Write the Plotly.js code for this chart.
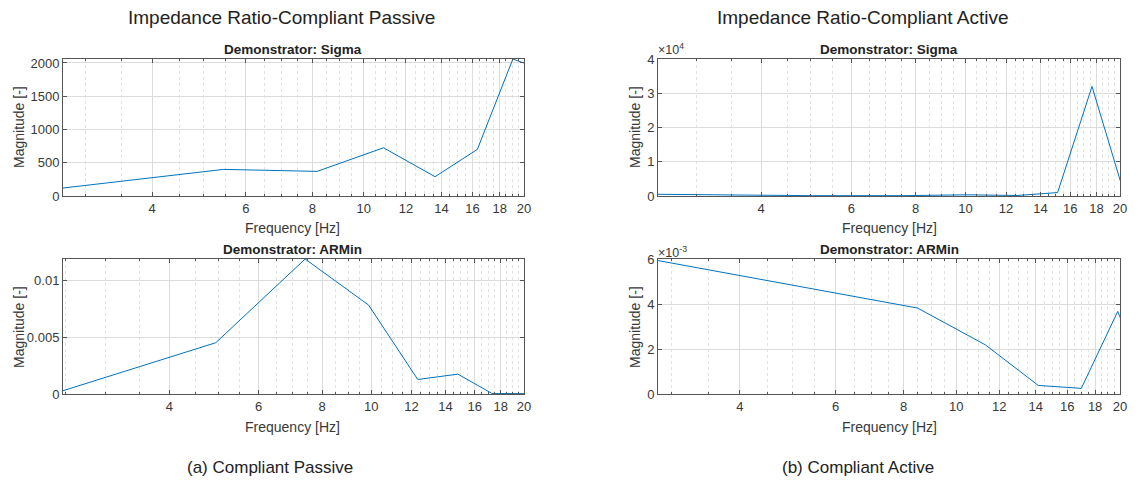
<!DOCTYPE html>
<html>
<head>
<meta charset="utf-8">
<script src="https://cdn.plot.ly/plotly-3.0.1.min.js"></script>
<style>
  html, body { margin: 0; padding: 0; background: #fff; }
  #chart { width: 1138px; height: 484px; }
</style>
</head>
<body>
<div id="chart"></div>
<script>
// Compliant passive, Sigma demonstrator
const passiveSigmaFreq = [2.72, 5.45, 8.17, 10.89, 13.61, 16.34, 19.06, 21.78];
const passiveSigmaMag  = [120, 400, 370, 725, 290, 700, 2060, 1890];

// Compliant passive, ARMin demonstrator
const passiveArminFreq = [2.47, 4.94, 7.41, 9.88, 12.35, 14.82, 17.29, 19.76, 22.23];
const passiveArminMag  = [0.00029, 0.00452, 0.0119, 0.00784, 0.00128, 0.00175, 0.00005, 0.00003, 0.00002];

// Compliant active, Sigma demonstrator
const activeSigmaFreq = [2.52, 5.04, 7.56, 10.08, 12.60, 15.12, 17.64, 20.16];
const activeSigmaMag  = [500, 100, 100, 350, 150, 1000, 32000, 3000];

// Compliant active, ARMin demonstrator
const activeArminFreq = [2.83, 5.66, 8.49, 11.32, 14.15, 16.98, 19.81, 22.64];
const activeArminMag  = [0.00593, 0.0046, 0.00382, 0.00218, 0.00038, 0.00025, 0.00367, 0.00017];

// Axis ticks
const freqTicks = [4, 6, 8, 10, 12, 14, 16, 18, 20];
const freqMax = 20;
const passiveSigmaYTicks = [0, 500, 1000, 1500, 2000];
const passiveArminYTicks = [0, 0.005, 0.01];
const activeSigmaYTicks = [0, 10000, 20000, 30000, 40000];
const activeSigmaYText = ['0', '1', '2', '3', '4'];
const activeArminYTicks = [0, 0.002, 0.004, 0.006];
const activeArminYText = ['0', '2', '4', '6'];

const W = 1138, H = 484;
const px = v => v / W;
const py = v => 1 - v / H;

const lineColor = '#0072BD';
const axisColor = '#555555';
const textColor = '#383838';
const fontFam = '"Liberation Sans", Arial, Helvetica, sans-serif';

function xAxis(dom, fmin) {
  return {
    type: 'log',
    domain: dom,
    range: [Math.log10(fmin), Math.log10(freqMax)],
    tickmode: 'array',
    tickvals: freqTicks,
    ticktext: freqTicks.map(String),
    ticks: 'inside',
    ticklen: 4,
    tickcolor: axisColor,
    showline: true,
    linecolor: axisColor,
    linewidth: 1,
    mirror: 'ticks',
    showgrid: true,
    gridcolor: '#dcdcdc',
    gridwidth: 1,
    zeroline: false,
    tickfont: { family: fontFam, size: 13, color: textColor },
    minor: {
      dtick: 'L0.5',
      tick0: 0,
      ticks: 'inside',
      ticklen: 2,
      tickcolor: axisColor,
      showgrid: true,
      gridcolor: '#e2e2e2',
      griddash: 'dot',
      gridwidth: 1
    },
    fixedrange: true
  };
}

function yAxis(dom, range, vals, text) {
  const ax = {
    domain: dom,
    range: range,
    tickmode: 'array',
    tickvals: vals,
    ticks: 'inside',
    ticklen: 4,
    tickcolor: axisColor,
    showline: true,
    linecolor: axisColor,
    linewidth: 1,
    mirror: 'ticks',
    showgrid: true,
    gridcolor: '#dcdcdc',
    gridwidth: 1,
    zeroline: false,
    tickfont: { family: fontFam, size: 13, color: textColor },
    fixedrange: true
  };
  if (text) ax.ticktext = text;
  return ax;
}

const leftDom = [px(63), px(524)];
const rightDom = [px(658), px(1120)];
const topDom = [py(196), py(59)];
const botDom = [py(394), py(259)];

const traces = [
  { x: passiveSigmaFreq, y: passiveSigmaMag, xaxis: 'x', yaxis: 'y' },
  { x: passiveArminFreq, y: passiveArminMag, xaxis: 'x2', yaxis: 'y2' },
  { x: activeSigmaFreq, y: activeSigmaMag, xaxis: 'x3', yaxis: 'y3' },
  { x: activeArminFreq, y: activeArminMag, xaxis: 'x4', yaxis: 'y4' }
].map(t => Object.assign(t, {
  type: 'scatter',
  mode: 'lines',
  line: { color: lineColor, width: 1 },
  hoverinfo: 'skip'
}));

function label(text, x, y, opts) {
  return Object.assign({
    text: text,
    xref: 'paper', yref: 'paper',
    x: px(x), y: py(y),
    xanchor: 'center', yanchor: 'middle',
    showarrow: false,
    font: { family: fontFam, size: 14, color: textColor }
  }, opts || {});
}

const headFont = { family: fontFam, size: 19, color: '#222' };
const capFont = { family: fontFam, size: 17, color: '#222' };
const subFont = { family: fontFam, size: 13.5, color: '#222' };
const expFont = { family: fontFam, size: 12.5, color: textColor };

const annotations = [
  label('Impedance Ratio-Compliant Passive', 281, 18, { font: headFont }),
  label('Impedance Ratio-Compliant Active', 862, 18, { font: headFont }),
  label('(a) Compliant Passive', 270, 467, { font: capFont }),
  label('(b) Compliant Active', 858, 467, { font: capFont }),

  label('<b>Demonstrator: Sigma</b>', 293, 50, { font: subFont }),
  label('<b>Demonstrator: ARMin</b>', 293, 249, { font: subFont }),
  label('<b>Demonstrator: Sigma</b>', 889, 50, { font: subFont }),
  label('<b>Demonstrator: ARMin</b>', 889, 249, { font: subFont }),

  label('Frequency [Hz]', 293, 228),
  label('Frequency [Hz]', 293, 427),
  label('Frequency [Hz]', 889, 228),
  label('Frequency [Hz]', 889, 427),

  label('Magnitude [-]', 19, 127, { textangle: -90 }),
  label('Magnitude [-]', 19, 327, { textangle: -90 }),
  label('Magnitude [-]', 635, 127, { textangle: -90 }),
  label('Magnitude [-]', 635, 327, { textangle: -90 }),

  label('×10<sup>4</sup>', 656, 49, { xanchor: 'left', font: expFont }),
  label('×10<sup>-3</sup>', 656, 252, { xanchor: 'left', font: expFont })
];

const layout = {
  width: W,
  height: H,
  margin: { l: 0, r: 0, t: 0, b: 0, pad: 0 },
  paper_bgcolor: '#ffffff',
  plot_bgcolor: '#ffffff',
  showlegend: false,
  font: { family: fontFam, size: 13, color: textColor },
  xaxis: Object.assign(xAxis(leftDom, passiveSigmaFreq[0]), { anchor: 'y' }),
  yaxis: Object.assign(yAxis(topDom, [0, 2060], passiveSigmaYTicks), { anchor: 'x' }),
  xaxis2: Object.assign(xAxis(leftDom, passiveArminFreq[0]), { anchor: 'y2' }),
  yaxis2: Object.assign(yAxis(botDom, [0, 0.0119], passiveArminYTicks), { anchor: 'x2' }),
  xaxis3: Object.assign(xAxis(rightDom, activeSigmaFreq[0]), { anchor: 'y3' }),
  yaxis3: Object.assign(yAxis(topDom, [0, 40000], activeSigmaYTicks, activeSigmaYText), { anchor: 'x3' }),
  xaxis4: Object.assign(xAxis(rightDom, activeArminFreq[0]), { anchor: 'y4' }),
  yaxis4: Object.assign(yAxis(botDom, [0, 0.006], activeArminYTicks, activeArminYText), { anchor: 'x4' }),
  annotations: annotations
};

Plotly.newPlot('chart', traces, layout, { displayModeBar: false, staticPlot: true });
</script>
</body>
</html>
